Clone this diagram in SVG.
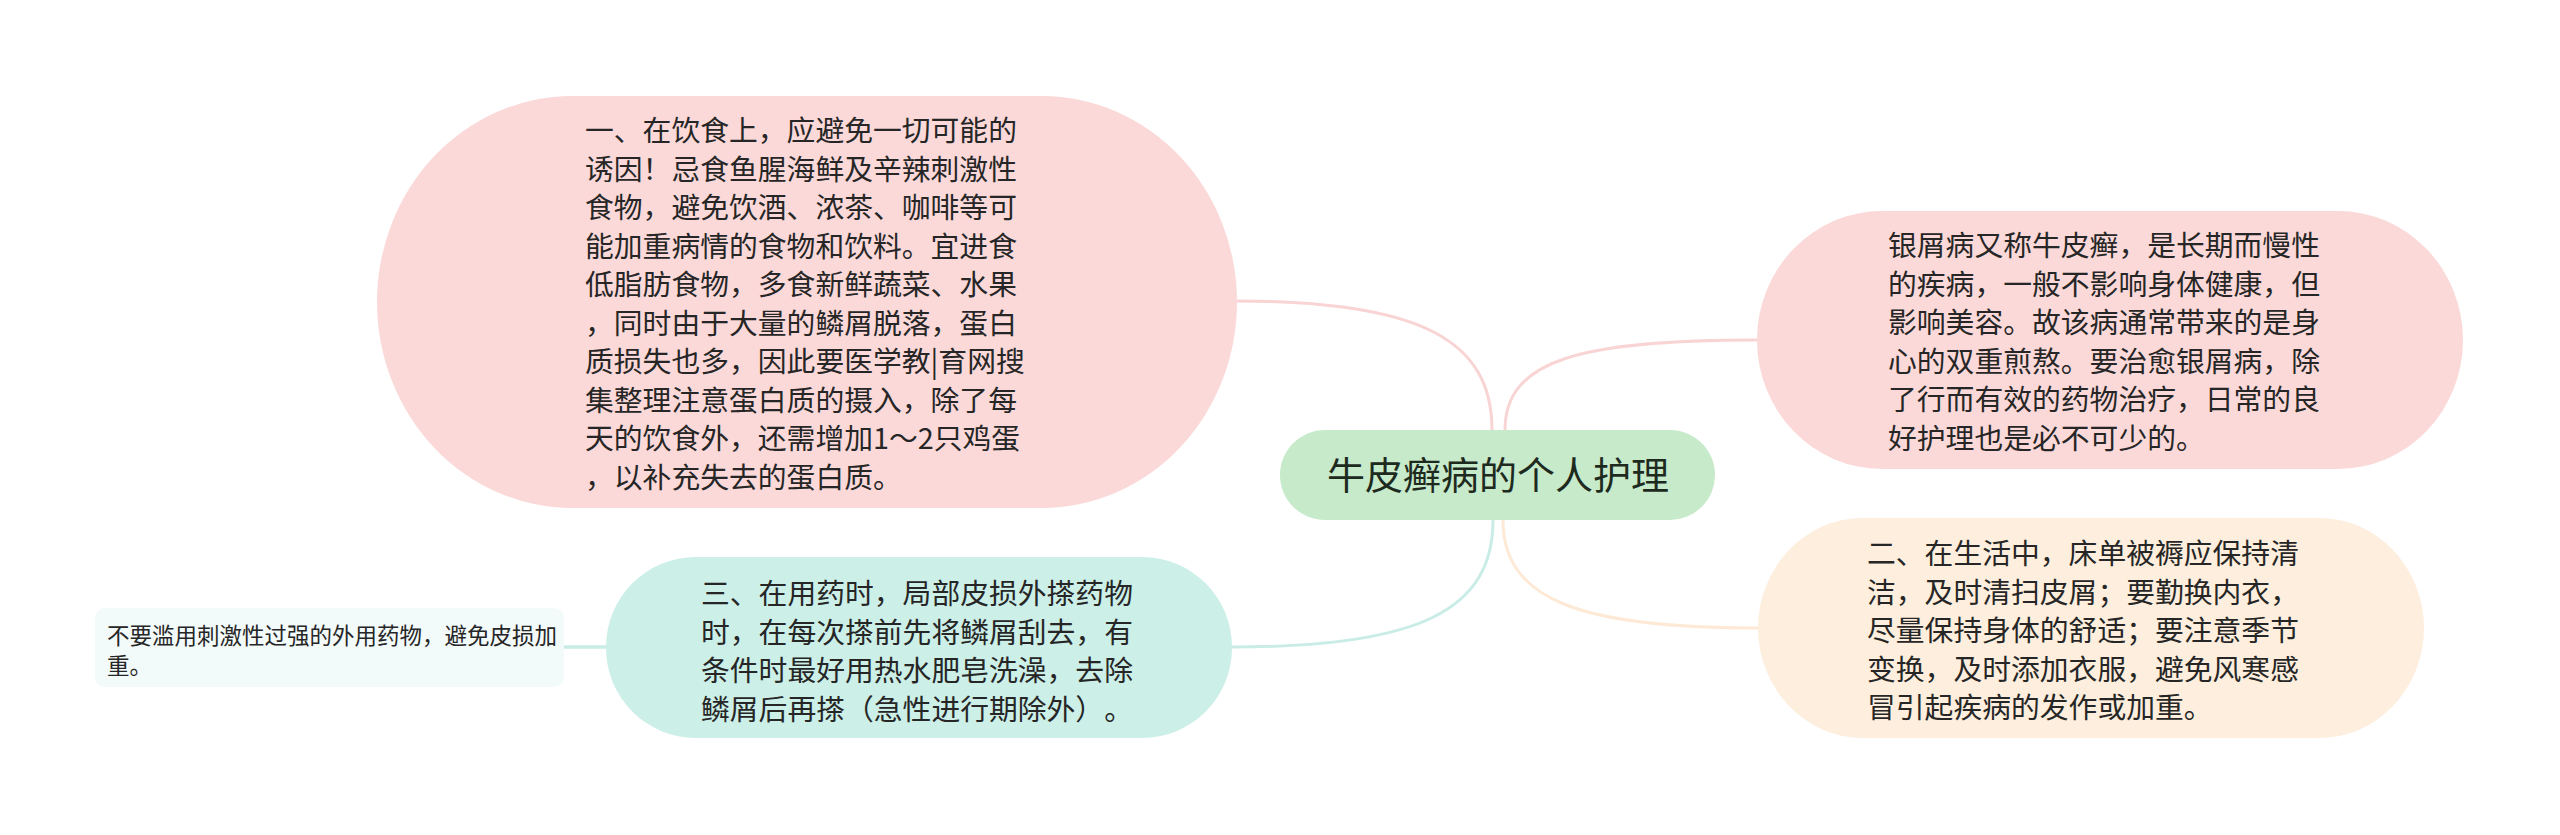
<svg xmlns="http://www.w3.org/2000/svg" width="2560" height="835" viewBox="0 0 2560 835">
<style>
  .t { font-family: "Microsoft YaHei", "Noto Sans CJK SC", "Noto Sans", sans-serif; fill: #262626; text-spacing-trim: space-all; }
  .body { font-size: 28.8px; }
  .leaf { font-size: 22.5px; }
  .root { font-size: 38px; fill: #1e2a1e; }
  .c { fill: none; stroke-width: 3; stroke-linecap: round; }
  .pink { stroke: #f9d4d4; }
  .teal { stroke: #c9ede6; }
  .peach { stroke: #fde9d6; }
</style>
<rect width="2560" height="835" fill="#ffffff"/>
<g id="connectors">
  <path class="c pink" d="M1492,430 C1492,340 1420,301 1237,301"/>
  <path class="c pink" d="M1505,430 C1505,360 1580,340 1757,340"/>
  <path class="c teal" d="M1493,520 C1493,610 1420,647 1232,647"/>
  <path class="c peach" d="M1503,520 C1503,600 1580,628 1758,628"/>
  <path class="c teal" style="stroke-width:3.5" d="M564,647 L606,647"/>
</g>
<g id="node-root">
  <rect x="1280" y="430" width="435" height="90" rx="45" ry="45" fill="#c6eaca"/>
  <text class="t root" x="1498" y="489" text-anchor="middle">牛皮癣病的个人护理</text>
</g>
<g id="node-diet">
  <rect x="377" y="96" width="860" height="412" rx="195" ry="206" fill="#fbd9d9"/>
  <text class="t body">
    <tspan x="585" y="141">一、在饮食上，应避免一切可能的</tspan>
    <tspan x="585" y="179.5">诱因！忌食鱼腥海鲜及辛辣刺激性</tspan>
    <tspan x="585" y="218">食物，避免饮酒、浓茶、咖啡等可</tspan>
    <tspan x="585" y="256.5">能加重病情的食物和饮料。宜进食</tspan>
    <tspan x="585" y="295">低脂肪食物，多食新鲜蔬菜、水果</tspan>
    <tspan x="585" y="333.5">，同时由于大量的鳞屑脱落，蛋白</tspan>
    <tspan x="585" y="372">质损失也多，因此要医学教|育网搜</tspan>
    <tspan x="585" y="410.5">集整理注意蛋白质的摄入，除了每</tspan>
    <tspan x="585" y="449">天的饮食外，还需增加1～2只鸡蛋</tspan>
    <tspan x="585" y="487.5">，以补充失去的蛋白质。</tspan>
  </text>
</g>
<g id="node-intro">
  <rect x="1757" y="211" width="706" height="258" rx="125" ry="129" fill="#fbd9d9"/>
  <text class="t body">
    <tspan x="1888" y="256">银屑病又称牛皮癣，是长期而慢性</tspan>
    <tspan x="1888" y="294.5">的疾病，一般不影响身体健康，但</tspan>
    <tspan x="1888" y="333">影响美容。故该病通常带来的是身</tspan>
    <tspan x="1888" y="371.5">心的双重煎熬。要治愈银屑病，除</tspan>
    <tspan x="1888" y="410">了行而有效的药物治疗，日常的良</tspan>
    <tspan x="1888" y="448.5">好护理也是必不可少的。</tspan>
  </text>
</g>
<g id="node-life">
  <rect x="1758" y="518" width="666" height="220" rx="105" ry="110" fill="#fdeedd"/>
  <text class="t body">
    <tspan x="1867" y="564">二、在生活中，床单被褥应保持清</tspan>
    <tspan x="1867" y="602.5">洁，及时清扫皮屑；要勤换内衣，</tspan>
    <tspan x="1867" y="641">尽量保持身体的舒适；要注意季节</tspan>
    <tspan x="1867" y="679.5">变换，及时添加衣服，避免风寒感</tspan>
    <tspan x="1867" y="718">冒引起疾病的发作或加重。</tspan>
  </text>
</g>
<g id="node-medicine">
  <rect x="606" y="557" width="626" height="181" rx="90" ry="90" fill="#ccefe8"/>
  <text class="t body">
    <tspan x="701" y="604">三、在用药时，局部皮损外搽药物</tspan>
    <tspan x="701" y="642.5">时，在每次搽前先将鳞屑刮去，有</tspan>
    <tspan x="701" y="681">条件时最好用热水肥皂洗澡，去除</tspan>
    <tspan x="701" y="719.5">鳞屑后再搽（急性进行期除外）。</tspan>
  </text>
</g>
<g id="node-leaf">
  <rect x="95" y="608" width="469" height="79" rx="10" ry="10" fill="#f3fafa"/>
  <text class="t leaf">
    <tspan x="107" y="643.5">不要滥用刺激性过强的外用药物，避免皮损加</tspan>
    <tspan x="107" y="673.5">重。</tspan>
  </text>
</g>
</svg>
